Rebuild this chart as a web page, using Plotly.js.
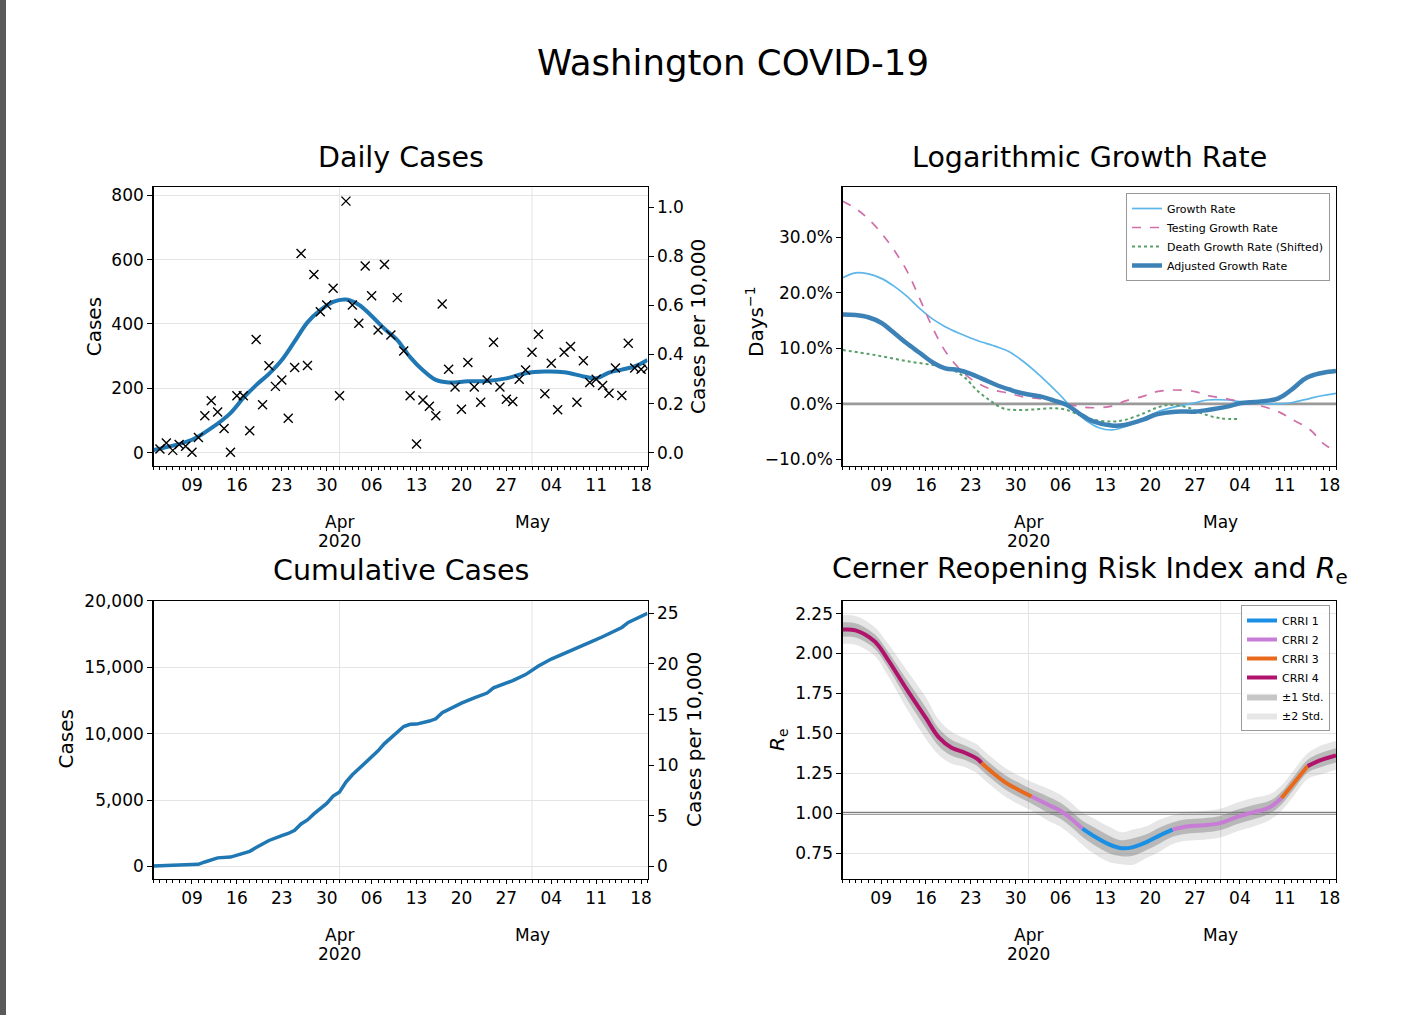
<!DOCTYPE html>
<html><head><meta charset="utf-8">
<script src="https://cdn.plot.ly/plotly-3.0.1.min.js"></script>
<style>
html,body{margin:0;padding:0;background:#fff;overflow:hidden;}
#strip{position:absolute;left:0;top:0;width:6px;height:1015px;background:#5a5a5a;z-index:5}
#chart{width:1404px;height:1015px;}
</style></head><body>
<div id="strip"></div>
<div id="chart"></div>
<script>
// ---------------- DATA ----------------
const dailyStart = '2020-03-04';
const dailyCases = [11,30,7,25,20,1,47,115,161,126,75,1,177,177,68,352,149,270,206,226,107,265,619,271,554,438,459,511,
  177,782,459,402,580,488,381,585,366,482,316,177,27,164,144,115,462,259,204,135,280,204,157,226,343,204,166,159,228,257,
  312,368,183,278,133,312,330,157,286,218,228,209,185,263,178,340,263,259,262];

const smoothDates = ['2020-03-03','2020-03-09','2020-03-12','2020-03-15','2020-03-17','2020-03-19','2020-03-21','2020-03-23','2020-03-25','2020-03-27','2020-03-29','2020-03-31','2020-04-02','2020-04-04','2020-04-06','2020-04-08','2020-04-10','2020-04-12','2020-04-14','2020-04-16','2020-04-18','2020-04-21','2020-04-24','2020-04-27','2020-04-30','2020-05-03','2020-05-06','2020-05-09','2020-05-11','2020-05-13','2020-05-15','2020-05-17','2020-05-19'];
const smoothCases = [8,40,76,123,170,210,245,288,346,405,443,469,476,460,425,385,350,297,256,226,218,222,223,231,247,252,250,237,231,249,258,268,288];

const cumDates = ['2020-03-03','2020-03-06','2020-03-09','2020-03-10','2020-03-11','2020-03-13','2020-03-15','2020-03-17','2020-03-18','2020-03-19','2020-03-21','2020-03-23','2020-03-24','2020-03-25','2020-03-26','2020-03-27','2020-03-28','2020-03-30','2020-03-31','2020-04-01','2020-04-02','2020-04-03','2020-04-05','2020-04-06','2020-04-07','2020-04-08','2020-04-10','2020-04-11','2020-04-12','2020-04-13','2020-04-15','2020-04-16','2020-04-17','2020-04-19','2020-04-20','2020-04-22','2020-04-24','2020-04-25','2020-04-27','2020-04-28','2020-04-30','2020-05-01','2020-05-02','2020-05-04','2020-05-05','2020-05-07','2020-05-08','2020-05-10','2020-05-12','2020-05-14','2020-05-15','2020-05-16','2020-05-18','2020-05-19'];
const cumCases = [20,60,120,150,330,640,700,1000,1130,1420,1950,2320,2480,2720,3200,3500,3950,4740,5290,5600,6350,6900,7800,8300,8700,9250,10160,10540,10700,10720,10950,11120,11580,12100,12300,12700,13060,13450,13800,14000,14450,14770,15100,15620,15840,16260,16500,16880,17300,17800,18000,18380,18880,19060];

const casesPer10kUnit = 762.5;   // cases corresponding to 1 case per 10,000 residents

const grDates = ['2020-03-03','2020-03-05','2020-03-07','2020-03-09','2020-03-11','2020-03-13','2020-03-15','2020-03-17','2020-03-19','2020-03-21','2020-03-24','2020-03-27','2020-03-29','2020-03-31','2020-04-02','2020-04-04','2020-04-06','2020-04-08','2020-04-10','2020-04-12','2020-04-14','2020-04-16','2020-04-19','2020-04-21','2020-04-24','2020-04-27','2020-04-29','2020-05-02','2020-05-04','2020-05-07','2020-05-10','2020-05-12','2020-05-15','2020-05-17','2020-05-19'];
const growthRate = [0.227,0.236,0.234,0.226,0.212,0.194,0.172,0.153,0.139,0.128,0.114,0.103,0.094,0.078,0.059,0.038,0.015,-0.010,-0.030,-0.043,-0.047,-0.041,-0.026,-0.015,-0.005,0.002,0.007,0.007,0.004,0.001,0.000,0.002,0.010,0.015,0.019];

const tgrDates = ['2020-03-03','2020-03-05','2020-03-07','2020-03-09','2020-03-11','2020-03-13','2020-03-15','2020-03-17','2020-03-19','2020-03-21','2020-03-23','2020-03-26','2020-03-29','2020-03-31','2020-04-03','2020-04-05','2020-04-07','2020-04-09','2020-04-11','2020-04-14','2020-04-16','2020-04-19','2020-04-21','2020-04-24','2020-04-27','2020-04-29','2020-05-02','2020-05-04','2020-05-07','2020-05-10','2020-05-12','2020-05-15','2020-05-17','2020-05-19'];
const testingGrowthRate = [0.365,0.352,0.333,0.308,0.277,0.240,0.190,0.138,0.095,0.066,0.045,0.027,0.019,0.013,0.009,0.004,0.000,-0.005,-0.007,-0.004,0.005,0.014,0.022,0.025,0.022,0.015,0.009,0.004,-0.003,-0.014,-0.027,-0.047,-0.071,-0.086];

const dgrDates = ['2020-03-03','2020-03-08','2020-03-13','2020-03-18','2020-03-20','2020-03-22','2020-03-24','2020-03-26','2020-03-28','2020-03-30','2020-04-02','2020-04-05','2020-04-07','2020-04-09','2020-04-11','2020-04-14','2020-04-16','2020-04-19','2020-04-21','2020-04-23','2020-04-26','2020-04-28','2020-05-01','2020-05-04'];
const deathGrowthRate = [0.097,0.088,0.077,0.068,0.062,0.048,0.024,0.006,-0.008,-0.011,-0.010,-0.008,-0.011,-0.020,-0.028,-0.032,-0.029,-0.017,-0.007,-0.002,-0.007,-0.017,-0.026,-0.027];

const agrDates = ['2020-03-03','2020-03-05','2020-03-07','2020-03-09','2020-03-11','2020-03-13','2020-03-15','2020-03-17','2020-03-19','2020-03-21','2020-03-23','2020-03-25','2020-03-27','2020-03-29','2020-03-31','2020-04-03','2020-04-05','2020-04-07','2020-04-09','2020-04-11','2020-04-14','2020-04-16','2020-04-19','2020-04-21','2020-04-24','2020-04-27','2020-04-29','2020-05-02','2020-05-04','2020-05-07','2020-05-10','2020-05-12','2020-05-14','2020-05-15','2020-05-17','2020-05-19'];
const adjustedGrowthRate = [0.161,0.160,0.156,0.146,0.128,0.109,0.092,0.075,0.064,0.061,0.054,0.044,0.034,0.026,0.019,0.013,0.006,-0.002,-0.018,-0.031,-0.039,-0.038,-0.028,-0.019,-0.014,-0.014,-0.011,-0.005,0.001,0.004,0.010,0.025,0.044,0.050,0.056,0.059];

const reDates = ['2020-03-03','2020-03-05','2020-03-08','2020-03-10','2020-03-13','2020-03-16','2020-03-18','2020-03-20','2020-03-22','2020-03-24','2020-03-24 16:00','2020-03-26','2020-03-28 12:00','2020-03-31','2020-04-01 12:00','2020-04-04','2020-04-06','2020-04-07 12:00','2020-04-09 10:00','2020-04-11','2020-04-13 16:00','2020-04-15 12:00','2020-04-17 08:00','2020-04-19 10:00','2020-04-21 12:00','2020-04-23 12:00','2020-04-25 16:00','2020-04-28 08:00','2020-04-30 22:00','2020-05-03 12:00','2020-05-06','2020-05-08 16:00','2020-05-10 12:00','2020-05-12 08:00','2020-05-14 14:00','2020-05-16 12:00','2020-05-19'];
const reValues = [2.150,2.145,2.075,1.965,1.775,1.595,1.475,1.41,1.38,1.34,1.315,1.268,1.19,1.135,1.105,1.055,1.015,0.97,0.903,0.862,0.803,0.781,0.788,0.819,0.861,0.897,0.917,0.924,0.938,0.976,1.005,1.038,1.095,1.185,1.295,1.331,1.362];
const reStd = [0.045,0.045,0.045,0.05,0.06,0.065,0.055,0.05,0.045,0.045,0.045,0.045,0.045,0.045,0.045,0.05,0.05,0.05,0.05,0.055,0.055,0.05,0.055,0.05,0.05,0.045,0.045,0.045,0.045,0.045,0.045,0.04,0.04,0.04,0.04,0.045,0.045];

const crriStarts = ['2020-03-03','2020-03-24 16:00','2020-04-01 12:00','2020-04-09 10:00','2020-04-23 12:00','2020-05-10 12:00','2020-05-14 14:00'];
const crriLevels = [4,3,2,1,2,3,4];
const crriColors = {1:'#1a8fe3', 2:'#c77cd5', 3:'#e8691c', 4:'#b0126c'};

// ---------------- HELPERS ----------------
const FONT = '"DejaVu Sans", sans-serif';
const W = 1404, H = 1015;
const px = v => v / W, py = v => 1 - v / H;
function addDays(s, n){ const d = new Date(s + 'T00:00:00Z'); d.setUTCDate(d.getUTCDate()+n); return d.toISOString().slice(0,10); }
const dailyDates = dailyCases.map((_, i) => addDays(dailyStart, i));
const tms = s => new Date(s.replace(' ', 'T') + (s.length > 10 ? ':00Z' : 'T00:00:00Z')).getTime();

const xRange = ['2020-03-03', '2020-05-19'];
const xL = [px(153.5), px(647.5)], xR = [px(842.7), px(1336)];
const yT = [py(465.5), py(187.3)], yB = [py(878.7), py(600.8)];
const tickfont = {family: FONT, size: 17, color: '#000'};
const GRID = '#e4e4e4';

function dateAxis(domain, anchor){
  return {domain, anchor, type:'date', range: xRange, tick0:'2020-03-09', dtick: 7*86400000, tickformat:'%d',
    ticks:'outside', ticklen:4, tickwidth:1, tickcolor:'#000', showgrid:false, zeroline:false,
    showline:true, mirror:true, linecolor:'#000', linewidth:1.3, tickfont, fixedrange:true,
    minor:{dtick:86400000, ticks:'outside', ticklen:3, tickwidth:1, tickcolor:'#000', showgrid:false}};
}
function valAxis(domain, anchor, range, opts){
  return Object.assign({domain, anchor, range, ticks:'outside', ticklen:5, tickwidth:1, tickcolor:'#000',
    showgrid:true, gridcolor:GRID, gridwidth:1, zeroline:false, showline:true, mirror:true, linecolor:'#000', linewidth:1.3,
    tickfont, fixedrange:true}, opts);
}

// ---------------- TRACES ----------------
const traces = [];
// Daily cases
traces.push({x: smoothDates, y: smoothCases, xaxis:'x', yaxis:'y', mode:'lines', line:{color:'#1f77b4', width:4, shape:'spline', smoothing:1}, showlegend:false, hoverinfo:'skip'});
traces.push({x: dailyDates, y: dailyCases, xaxis:'x', yaxis:'y', mode:'markers', marker:{symbol:'x-thin', size:9, color:'#000', line:{width:1.4, color:'#000'}}, showlegend:false});
traces.push({x: dailyDates, y: dailyCases.map(v => v / casesPer10kUnit), xaxis:'x', yaxis:'y2', mode:'markers', marker:{opacity:0}, showlegend:false, hoverinfo:'skip'});

// Growth rates
traces.push({x: grDates, y: growthRate, xaxis:'x2', yaxis:'y3', mode:'lines', name:'Growth Rate', legend:'legend', line:{color:'#5db6ea', width:1.7, shape:'spline'}});
traces.push({x: tgrDates, y: testingGrowthRate, xaxis:'x2', yaxis:'y3', mode:'lines', name:'Testing Growth Rate', legend:'legend', line:{color:'#d06fa8', width:1.7, dash:'dash', shape:'spline'}});
traces.push({x: dgrDates, y: deathGrowthRate, xaxis:'x2', yaxis:'y3', mode:'lines', name:'Death Growth Rate (Shifted)', legend:'legend', line:{color:'#5a9f6b', width:2, dash:'dot', shape:'spline'}});
traces.push({x: agrDates, y: adjustedGrowthRate, xaxis:'x2', yaxis:'y3', mode:'lines', name:'Adjusted Growth Rate', legend:'legend', line:{color:'#3c82b6', width:4.5, shape:'spline'}});

// Cumulative
traces.push({x: cumDates, y: cumCases, xaxis:'x3', yaxis:'y4', mode:'lines', line:{color:'#1f77b4', width:3.5}, showlegend:false});
traces.push({x: cumDates, y: cumCases.map(v => v / casesPer10kUnit), xaxis:'x3', yaxis:'y5', mode:'lines', line:{width:0, color:'rgba(0,0,0,0)'}, showlegend:false, hoverinfo:'skip'});

// Re bands
const band = k => ({lo: reValues.map((v,i) => v - k*reStd[i]), hi: reValues.map((v,i) => v + k*reStd[i])});
const b2 = band(2), b1 = band(1);
traces.push({x: reDates, y: b2.lo, xaxis:'x4', yaxis:'y6', mode:'lines', line:{width:0, shape:'spline'}, showlegend:false, hoverinfo:'skip'});
traces.push({x: reDates, y: b2.hi, xaxis:'x4', yaxis:'y6', mode:'lines', line:{width:0, shape:'spline'}, fill:'tonexty', fillcolor:'rgba(128,128,128,0.2)', name:'±2 Std.', legend:'legend2', legendrank:6, hoverinfo:'skip'});
traces.push({x: reDates, y: b1.lo, xaxis:'x4', yaxis:'y6', mode:'lines', line:{width:0, shape:'spline'}, showlegend:false, hoverinfo:'skip'});
traces.push({x: reDates, y: b1.hi, xaxis:'x4', yaxis:'y6', mode:'lines', line:{width:0, shape:'spline'}, fill:'tonexty', fillcolor:'rgba(128,128,128,0.45)', name:'±1 Std.', legend:'legend2', legendrank:5, hoverinfo:'skip'});

// Re coloured by CRRI level
const seen = {};
crriStarts.forEach((s, k) => {
  const t0 = tms(s), t1 = k + 1 < crriStarts.length ? tms(crriStarts[k+1]) : Infinity;
  const xs = [], ys = [];
  reDates.forEach((d, i) => { const t = tms(d); if (t >= t0 && t <= t1) { xs.push(d); ys.push(reValues[i]); } });
  const lvl = crriLevels[k];
  traces.push({x: xs, y: ys, xaxis:'x4', yaxis:'y6', mode:'lines', name:'CRRI ' + lvl, legend:'legend2', legendrank: lvl,
    showlegend: !seen[lvl], line:{color: crriColors[lvl], width:4, shape:'spline'}});
  seen[lvl] = true;
});

// ---------------- LAYOUT ----------------
const monthStarts = ['2020-04-01', '2020-05-01'];
const monthText = ['Apr', 'May'];
const yearText = ['2020', ''];
const shapes = [];
[['x','y'], ['x3','y4'], ['x4','y6']].forEach(([xa, ya]) => monthStarts.forEach(m => shapes.push({
  type:'line', xref: xa, yref: ya + ' domain', x0: m, x1: m, y0: 0, y1: 1, line:{color: GRID, width: 1}, layer:'below'})));
shapes.push({type:'line', xref:'x2 domain', x0:0, x1:1, yref:'y3', y0:0, y1:0, line:{color:'rgba(120,120,120,0.75)', width:2.6}, layer:'below'});
shapes.push({type:'line', xref:'x4 domain', x0:0, x1:1, yref:'y6', y0:1, y1:1, line:{color:'rgba(95,95,95,0.8)', width:3}, layer:'below'});

const annotations = [];
const ann = (o) => annotations.push(Object.assign({showarrow:false, xanchor:'center', yanchor:'middle', font:{family:FONT, size:17, color:'#000'}}, o));
// month / year labels
[['x', 522], ['x2', 522], ['x3', 935], ['x4', 935]].forEach(([xa, cy]) => monthStarts.forEach((m, i) => {
  ann({xref: xa, x: m, yref:'paper', y: py(cy), text: monthText[i]});
  if (yearText[i]) ann({xref: xa, x: m, yref:'paper', y: py(cy + 19), text: yearText[i]});
}));
// subplot titles
const titleFont = {family: FONT, size: 28.5, color:'#000'};
ann({xref:'paper', x: px(400.5), yref:'paper', y: py(157), text:'Daily Cases', font:titleFont});
ann({xref:'paper', x: px(1089.5), yref:'paper', y: py(157), text:'Logarithmic Growth Rate', font:titleFont});
ann({xref:'paper', x: px(400.5), yref:'paper', y: py(570), text:'Cumulative Cases', font:titleFont});
ann({xref:'paper', x: px(1089.5), yref:'paper', y: py(570), text:'Cerner Reopening Risk Index and <i>R</i><sub>e</sub>', font:titleFont});
// axis titles
const axFont = {family: FONT, size: 20, color:'#000'};
ann({xref:'paper', x: px(94.3), yref:'paper', y: py(327), textangle:-90, text:'Cases', font:axFont});
ann({xref:'paper', x: px(698.5), yref:'paper', y: py(326.5), textangle:-90, text:'Cases per 10,000', font:axFont});
ann({xref:'paper', x: px(755), yref:'paper', y: py(322), textangle:-90, text:'Days<sup>−1</sup>', font:axFont});
ann({xref:'paper', x: px(65.5), yref:'paper', y: py(739), textangle:-90, text:'Cases', font:axFont});
ann({xref:'paper', x: px(694), yref:'paper', y: py(740), textangle:-90, text:'Cases per 10,000', font:axFont});
ann({xref:'paper', x: px(777.5), yref:'paper', y: py(739.5), textangle:-90, text:'<i>R</i><sub>e</sub>', font:axFont});

const dailyRange = [-40, 825], cumRange = [-930, 20010];
const legendBase = {xanchor:'right', yanchor:'top', bgcolor:'rgba(255,255,255,0.8)', bordercolor:'#999', borderwidth:1,
  font:{family: FONT, size: 11, color:'#000'}, itemwidth:30, tracegroupgap:0, traceorder:'normal'};

const layout = {
  width: W, height: H, margin:{l:0, r:0, t:0, b:0}, paper_bgcolor:'#fff', plot_bgcolor:'#fff',
  font:{family: FONT, color:'#000'},
  title:{text:'Washington COVID-19', x: px(733), xanchor:'center', xref:'paper', yref:'container', y: py(63), yanchor:'middle', font:{family: FONT, size: 35.5, color:'#000'}},
  xaxis: dateAxis(xL, 'y'),
  yaxis: valAxis(yT, 'x', dailyRange, {tick0:0, dtick:200}),
  yaxis2: valAxis(yT, 'x', dailyRange.map(v => v / casesPer10kUnit), {overlaying:'y', side:'right', tick0:0, dtick:0.2, tickformat:'.1f', showgrid:false, showline:false, mirror:false}),
  xaxis2: dateAxis(xR, 'y3'),
  yaxis3: valAxis(yT, 'x2', [-0.111, 0.39], {tick0:0, dtick:0.1, tickformat:'.1%', showgrid:false}),
  xaxis3: dateAxis(xL, 'y4'),
  yaxis4: valAxis(yB, 'x3', cumRange, {tick0:0, dtick:5000, tickformat:',d'}),
  yaxis5: valAxis(yB, 'x3', cumRange.map(v => v / casesPer10kUnit), {overlaying:'y4', side:'right', tick0:0, dtick:5, showgrid:false, showline:false, mirror:false}),
  xaxis4: dateAxis(xR, 'y6'),
  yaxis6: valAxis(yB, 'x4', [0.59, 2.33], {tick0:0.75, dtick:0.25, tickformat:'.2f'}),
  legend: Object.assign({}, legendBase, {x: px(1330), y: py(193)}),
  legend2: Object.assign({}, legendBase, {x: px(1330), y: py(605)}),
  shapes, annotations, hovermode:false
};

Plotly.newPlot('chart', traces, layout, {displayModeBar:false, staticPlot:true});
</script></body></html>
